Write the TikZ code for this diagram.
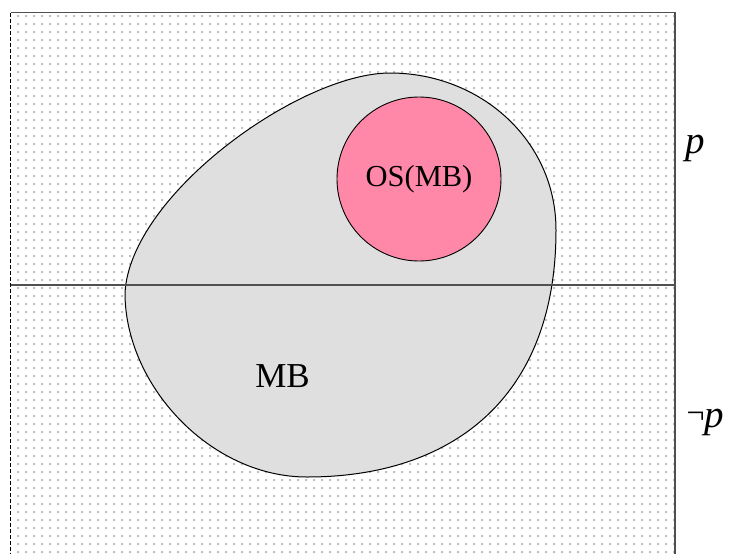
\documentclass[tikz,border=0pt]{standalone}
\usepackage{fontspec}
\usepackage{tikz}
\setmainfont{Liberation Serif}

\definecolor{dotgray}{RGB}{192,192,192}
\definecolor{mbgray}{RGB}{223,223,223}
\definecolor{ospink}{RGB}{255,135,168}
\definecolor{edgegray}{RGB}{80,80,80}

\begin{document}
\begin{tikzpicture}[x=1pt, y=-1pt,
  bigtext/.style={font=\fontsize{35}{40}\selectfont},
  proptext/.style={font=\fontsize{39}{42}\selectfont\itshape}]
  \useasboundingbox (0,0) rectangle (731,554);

  % Dotted background
  \foreach \i in {0,...,82} {
    \fill[dotgray] \foreach \j in {0,...,67} {(17+8*\i,15+8*\j) rectangle ++(2.2,2.2)};
  }

  % Region MB
  \coordinate (mbL) at (125,293);
  \coordinate (mbT) at (390,73);
  \coordinate (mbR) at (556,230);
  \coordinate (mbB) at (307,477);
  \draw[fill=mbgray, line width=1pt]
    (mbL) .. controls (130,195) and (300,73) .. (mbT)
          .. controls (480,73) and (556,140) .. (mbR)
          .. controls (556,400) and (450,477) .. (mbB)
          .. controls (210,477) and (125,385) .. (mbL) -- cycle;

  % Frame and split line
  \coordinate (tl) at (10.5,12.5);
  \coordinate (tr) at (675,12.5);
  \coordinate (bl) at (10.5,554);
  \coordinate (br) at (675,554);
  \coordinate (ml) at (10.5,285);
  \coordinate (mr) at (675,285);
  \draw[black, line width=1.2pt, dash pattern=on 4pt off 2pt] (tl) -- (bl);
  \draw[edgegray, line width=1.2pt] (tl) -- (tr) -- (br);
  \draw[edgegray, line width=1.3pt] (ml) -- (mr);

  % Nodes
  \node[circle, draw, fill=ospink, line width=0.9pt, minimum size=164pt, inner sep=0pt,
        font=\fontsize{30.5}{32}\selectfont] (os) at (419,179) {OS(MB)};
  \node[bigtext] (mb) at (282.5,376.5) {MB};
  \node[proptext] (p) at (695.5,148.5) {p};
  \node[proptext, inner sep=0pt] (np) at (705.5,422)
    {\raisebox{4pt}{\upshape\fontsize{32}{34}\selectfont ¬}p};
\end{tikzpicture}
\end{document}
